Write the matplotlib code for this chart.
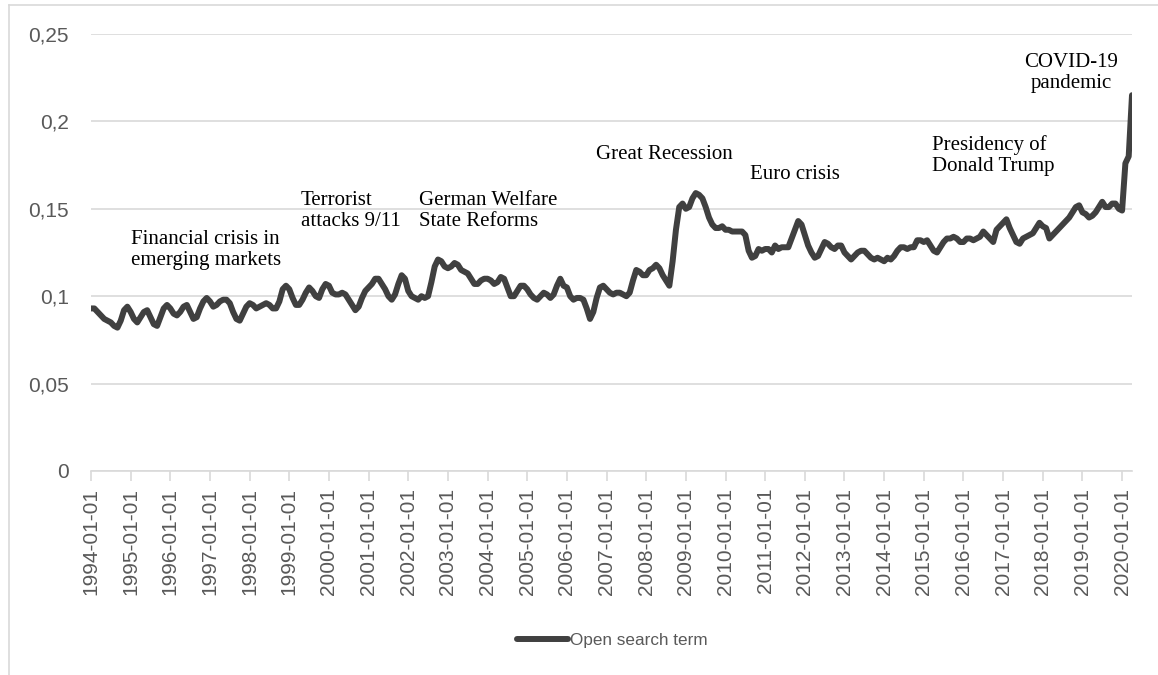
import matplotlib.pyplot as plt
import numpy as np

# monthly values, one list per year
y1994 = [0.093, 0.093, 0.091, 0.089, 0.087, 0.086, 0.085, 0.083, 0.082, 0.086, 0.092, 0.094]
y1995 = [0.091, 0.087, 0.085, 0.088, 0.091, 0.092, 0.088, 0.084, 0.083, 0.088, 0.093, 0.095]
y1996 = [0.093, 0.090, 0.089, 0.091, 0.094, 0.095, 0.091, 0.087, 0.088, 0.093, 0.097, 0.099]
y1997 = [0.097, 0.094, 0.095, 0.097, 0.098, 0.098, 0.096, 0.091, 0.087, 0.086, 0.090, 0.094]
y1998 = [0.096, 0.095, 0.093, 0.094, 0.095, 0.096, 0.095, 0.093, 0.093, 0.097, 0.104, 0.106]
y1999 = [0.104, 0.099, 0.095, 0.095, 0.098, 0.102, 0.105, 0.103, 0.100, 0.099, 0.104, 0.107]
y2000 = [0.106, 0.102, 0.101, 0.101, 0.102, 0.101, 0.098, 0.095, 0.092, 0.094, 0.099, 0.103]
y2001 = [0.105, 0.107, 0.110, 0.110, 0.107, 0.104, 0.100, 0.098, 0.101, 0.107, 0.112, 0.110]
y2002 = [0.103, 0.100, 0.099, 0.098, 0.100, 0.099, 0.100, 0.108, 0.117, 0.121, 0.120, 0.117]
y2003 = [0.116, 0.117, 0.119, 0.118, 0.115, 0.114, 0.113, 0.110, 0.107, 0.107, 0.109, 0.110]
y2004 = [0.110, 0.109, 0.107, 0.108, 0.111, 0.110, 0.105, 0.100, 0.100, 0.103, 0.106, 0.106]
y2005 = [0.104, 0.101, 0.099, 0.098, 0.100, 0.102, 0.101, 0.099, 0.101, 0.106, 0.110, 0.106]
y2006 = [0.105, 0.100, 0.098, 0.099, 0.099, 0.098, 0.093, 0.087, 0.091, 0.099, 0.105, 0.106]
y2007 = [0.104, 0.102, 0.101, 0.102, 0.102, 0.101, 0.100, 0.102, 0.109, 0.115, 0.114, 0.112]
y2008 = [0.112, 0.115, 0.116, 0.118, 0.116, 0.112, 0.109, 0.106, 0.120, 0.138, 0.151, 0.153]
y2009 = [0.150, 0.151, 0.156, 0.159, 0.158, 0.156, 0.151, 0.145, 0.141, 0.139, 0.139, 0.140]
y2010 = [0.138, 0.138, 0.137, 0.137, 0.137, 0.137, 0.135, 0.126, 0.122, 0.123, 0.127, 0.126]
y2011 = [0.127, 0.127, 0.125, 0.129, 0.127, 0.128, 0.128, 0.128, 0.133, 0.138, 0.143, 0.141]
y2012 = [0.135, 0.129, 0.125, 0.122, 0.123, 0.127, 0.131, 0.130, 0.128, 0.127, 0.129, 0.129]
y2013 = [0.125, 0.123, 0.121, 0.123, 0.125, 0.126, 0.126, 0.124, 0.122, 0.121, 0.122, 0.121]
y2014 = [0.120, 0.122, 0.121, 0.123, 0.126, 0.128, 0.128, 0.127, 0.128, 0.128, 0.132, 0.132]
y2015 = [0.131, 0.132, 0.129, 0.126, 0.125, 0.128, 0.131, 0.133, 0.133, 0.134, 0.133, 0.131]
y2016 = [0.131, 0.133, 0.133, 0.132, 0.133, 0.134, 0.137, 0.135, 0.133, 0.131, 0.138, 0.140]
y2017 = [0.142, 0.144, 0.139, 0.135, 0.131, 0.130, 0.133, 0.134, 0.135, 0.136, 0.139, 0.142]
y2018 = [0.140, 0.139, 0.133, 0.135, 0.137, 0.139, 0.141, 0.143, 0.145, 0.148, 0.151, 0.152]
y2019 = [0.148, 0.147, 0.145, 0.146, 0.148, 0.151, 0.154, 0.151, 0.151, 0.153, 0.153, 0.150]
y2020 = [0.149, 0.176, 0.180, 0.215]

years = list(range(1994, 2021))
tick_labels = [str(y) + "-01-01" for y in years]

events = ["Financial crisis in\nemerging markets", "Terrorist\nattacks 9/11",
          "German Welfare\nState Reforms", "Great Recession", "Euro crisis",
          "Presidency of\nDonald Trump", "COVID-19\npandemic"]

values = (y1994 + y1995 + y1996 + y1997 + y1998 + y1999 + y2000 + y2001 + y2002
          + y2003 + y2004 + y2005 + y2006 + y2007 + y2008 + y2009 + y2010 + y2011
          + y2012 + y2013 + y2014 + y2015 + y2016 + y2017 + y2018 + y2019 + y2020)
months = np.arange(len(values))

fig = plt.figure(figsize=(11.58, 6.75), dpi=100)
ax = fig.add_axes([91/1158, 1 - 471/675, (1132 - 91)/1158, (471 - 34)/675])

ax.plot(months, values, color="#404040", linewidth=4.3, solid_joinstyle="round",
        solid_capstyle="round", label="Open search term", zorder=3)

ax.set_xlim(0, len(values) - 1)
ax.set_ylim(0, 0.25)
ax.set_yticks([0, 0.05, 0.1, 0.15, 0.2, 0.25])
ax.set_yticklabels(["0", "0,05", "0,1", "0,15", "0,2", "0,25"])
ax.set_xticks(np.arange(len(years)) * 12)
ax.set_xticklabels(tick_labels, rotation=90)

ax.grid(axis="y", color="#d9d9d9", linewidth=1.2, zorder=0)
for s in ["top", "right", "left"]:
    ax.spines[s].set_visible(False)
ax.spines["bottom"].set_color("#d9d9d9")
ax.spines["bottom"].set_linewidth(1.2)
ax.tick_params(axis="y", length=0, pad=16, labelsize=15, labelcolor="#595959")
ax.tick_params(axis="x", length=7, width=1.2, color="#d9d9d9", pad=5,
               labelsize=15, labelcolor="#595959")
for t in ax.get_xticklabels() + ax.get_yticklabels():
    t.set_fontfamily("Liberation Sans")

# event labels (pixel positions of the text's top edge)
ev_pos = [(131, 230, "left"), (301, 191, "left"), (419, 191, "left"), (596, 145, "left"),
          (750, 165, "left"), (932, 135, "left"), (1071, 53, "center")]
for txt, (px, py, ha) in zip(events, ev_pos):
    fig.text(px/1158, 1 - py/675, txt, ha=ha, va="top", fontsize=15,
             family="Liberation Serif", color="black", linespacing=1.15)

leg = fig.legend(loc="center", bbox_to_anchor=(612/1158, 1 - 640/675), frameon=False,
                 prop={"family": "Liberation Sans", "size": 12.3}, handlelength=3.0,
                 handletextpad=0.1)
for t in leg.get_texts():
    t.set_color("#595959")

# outer chart frame
fig.add_artist(plt.Line2D([9/1158, 9/1158], [0, 1 - 5/675], color="#d9d9d9", linewidth=1.2))
fig.add_artist(plt.Line2D([9/1158, 1], [1 - 5/675, 1 - 5/675], color="#d9d9d9", linewidth=1.2))

fig.savefig("out.png", dpi=100)
